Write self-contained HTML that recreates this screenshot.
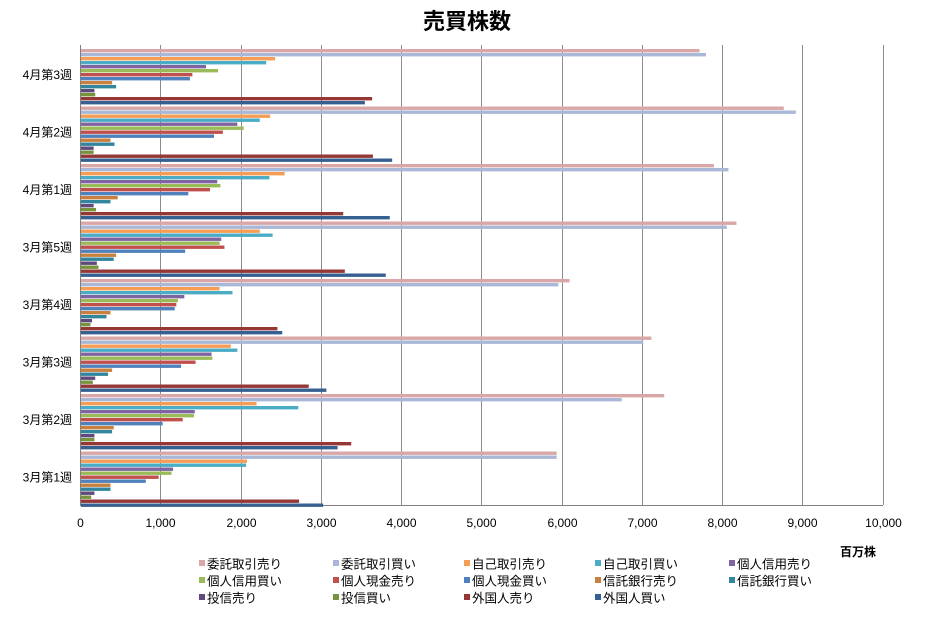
<!DOCTYPE html>
<html><head><meta charset="utf-8"><style>
body{margin:0;background:#fff;}
svg text{font-family:"Liberation Sans","Noto Sans CJK JP",sans-serif;}
</style></head><body>
<svg width="933" height="621" xmlns="http://www.w3.org/2000/svg">
<rect width="933" height="621" fill="#fff"/>
<text x="467" y="29" text-anchor="middle" font-size="22" font-weight="bold" fill="#000">売買株数</text>
<g id="grid" stroke="#8c8c8c" stroke-width="1"></g>
<g id="bars"></g>
<g id="labels" font-size="12" fill="#000"></g>
<text x="858" y="556" text-anchor="middle" font-size="12" font-weight="bold">百万株</text>
<g id="legend" font-size="12.5"></g>
</svg>
<script>
const ns="http://www.w3.org/2000/svg";
function el(p,t,a,txt){const e=document.createElementNS(ns,t);for(const k in a)e.setAttribute(k,a[k]);if(txt!==undefined)e.textContent=txt;document.getElementById(p).appendChild(e);}
const X0=80,S=0.08025,TOP=45,BOT=505,PITCH=(BOT-TOP)/8;
for(let i=0;i<=10;i++){const x=Math.round(X0+i*1000*S)+0.5;el('grid','line',{x1:x,y1:TOP,x2:x,y2:BOT,stroke:i==0?'#808080':'#8c8c8c'});
el('labels','text',{x:x,y:527,'text-anchor':'middle'},i==0?'0':(i*1000).toLocaleString('en-US'));}
el('grid','line',{x1:X0,y1:BOT+0.5,x2:883,y2:BOT+0.5,stroke:'#808080'});
const colors=['#D9A7A8','#A9B8D6','#F59D55','#4BACC6','#8064A2','#9BBB59','#C0504D','#4F81BD','#C9803F','#31859C','#604A7B','#77933C','#953735','#376092'];
const names=['委託取引売り','委託取引買い','自己取引売り','自己取引買い','個人信用売り','個人信用買い','個人現金売り','個人現金買い','信託銀行売り','信託銀行買い','投信売り','投信買い','外国人売り','外国人買い'];
const groups=['4月第3週','4月第2週','4月第1週','3月第5週','3月第4週','3月第3週','3月第2週','3月第1週'];
const data=[
[7720,7800,2430,2320,1570,1720,1400,1370,400,450,180,190,3640,3550],
[8770,8920,2370,2240,1960,2040,1780,1670,380,430,170,170,3650,3890],
[7900,8080,2550,2360,1710,1750,1620,1350,470,380,170,200,3280,3860],
[8180,8060,2240,2400,1760,1740,1800,1310,450,420,210,230,3300,3810],
[6100,5960,1740,1900,1300,1220,1200,1180,380,330,150,130,2460,2520],
[7120,7020,1880,1960,1640,1650,1440,1260,400,350,190,160,2850,3070],
[7280,6750,2200,2720,1430,1420,1280,1030,420,400,180,180,3380,3210],
[5940,5940,2080,2070,1160,1140,980,820,380,380,180,140,2730,3030]];
data.forEach((row,i)=>{const g0=TOP+i*PITCH;
 el('labels','text',{x:72,y:g0+PITCH/2+5,'text-anchor':'end'},groups[i]);
 row.forEach((v,j)=>{el('bars','rect',{x:X0+1,y:g0+4+j*4,width:v*S-1,height:3.4,fill:colors[j]});});});
const lx=[199,333,464,595,729],ly=[564,581,598];
names.forEach((n,k)=>{const c=k%5,r=Math.floor(k/5);
 el('legend','rect',{x:lx[c],y:ly[r]-4,width:6,height:6,fill:colors[k]});
 el('legend','text',{x:lx[c]+8,y:ly[r]+4.5},n);});
</script>
</body></html>
